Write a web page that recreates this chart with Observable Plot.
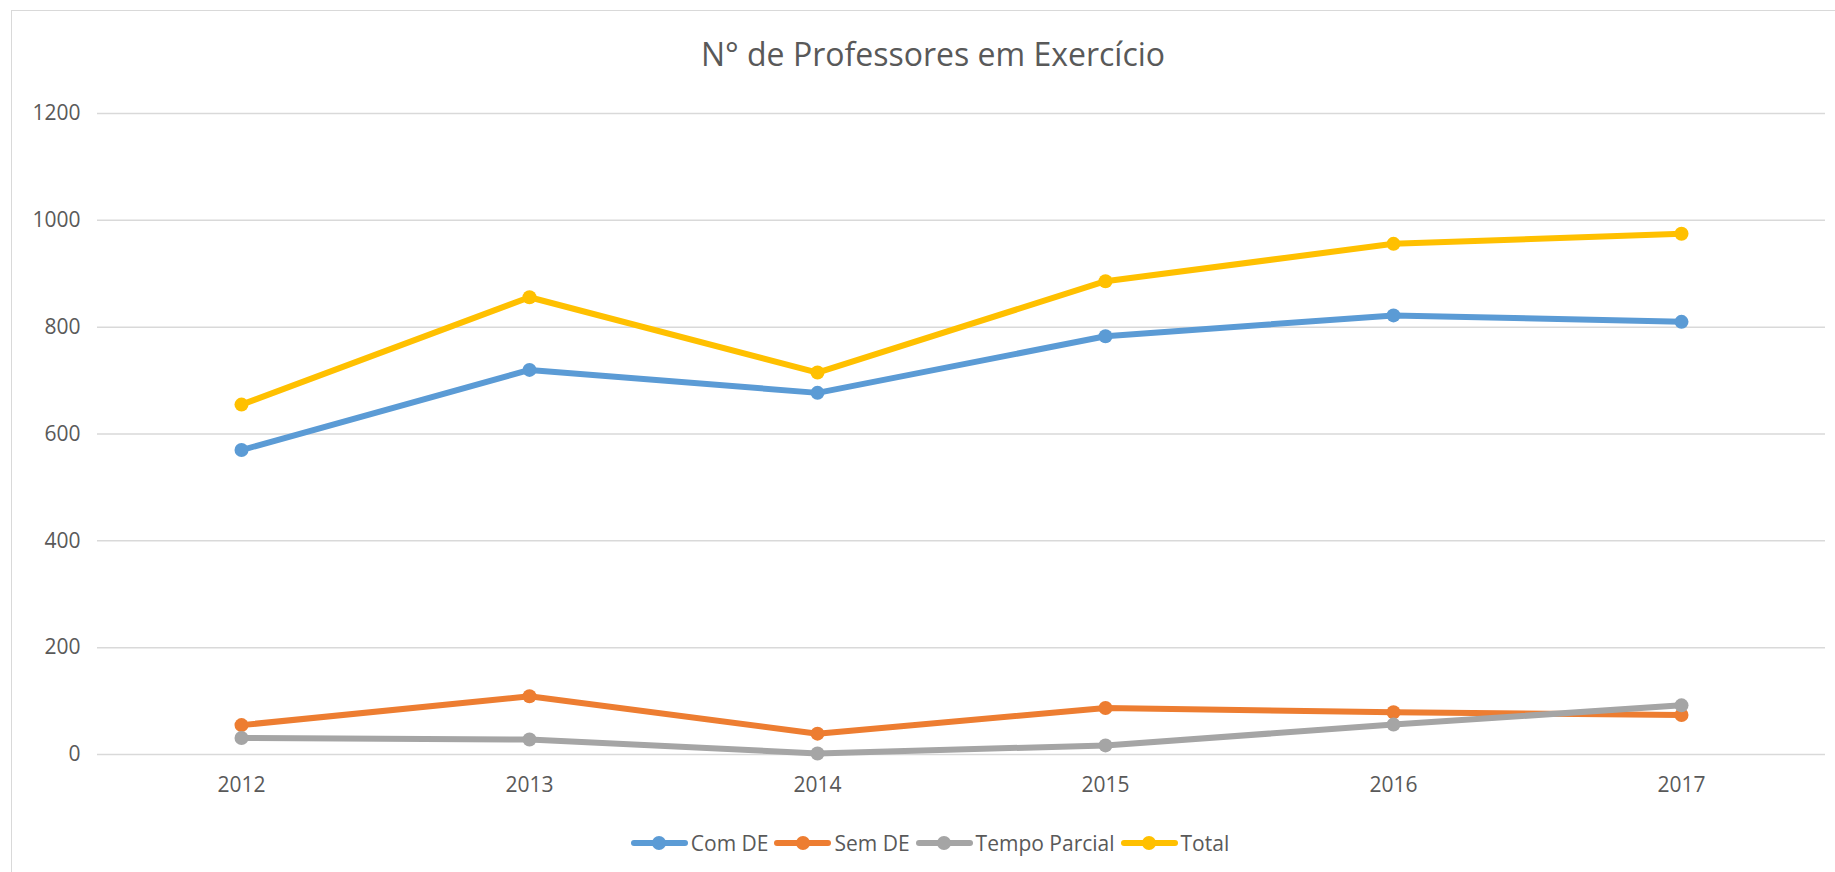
<!DOCTYPE html>
<html>
<head>
<meta charset="utf-8">
<script src="https://cdn.jsdelivr.net/npm/d3@7"></script>
<script src="https://cdn.jsdelivr.net/npm/@observablehq/plot@0.6"></script>
<style>
  html, body { margin: 0; padding: 0; background: #ffffff; width: 1835px; height: 872px; overflow: hidden; font-family: "Open Sans", sans-serif; }
  #frame { position: absolute; left: 11px; top: 10px; width: 1900px; height: 900px; border-left: 1.5px solid #D9D9D9; border-top: 1.5px solid #D9D9D9; box-sizing: border-box; }
  #title { position: absolute; left: 11px; width: 1844px; top: 34px; line-height: 40px; text-align: center; font-size: 32px; color: #595959; white-space: nowrap; }
  #chart { position: absolute; left: 0; top: 0; }
  #legend { position: absolute; left: 11px; width: 1844px; top: 827.5px; height: 30px; display: flex; justify-content: center; align-items: center; font-size: 21px; color: #595959; line-height: 30px; white-space: nowrap; }
  .item { display: flex; align-items: center; }
  .sw { position: relative; width: 57px; height: 30px; margin-right: 3px; }
  .sw .bar { position: absolute; left: 0; right: 0; top: 12px; height: 6px; border-radius: 3px; }
  .sw .dot { position: absolute; left: 21.5px; top: 8px; width: 14px; height: 14px; border-radius: 50%; }
  .lab { margin-right: 6px; }
</style>
</head>
<body>
<div id="frame"></div>
<div id="title">N° de Professores em Exercício</div>
<div id="chart"></div>
<div id="legend"></div>
<script>
const years = ["2012", "2013", "2014", "2015", "2016", "2017"];
const comDE = [570, 720, 677, 783, 822, 810];
const semDE = [55, 109, 39, 87, 79, 74];
const tempoParcial = [31, 28, 2, 17, 56, 92];
const total = [655, 856, 715, 886, 956, 975];
const seriesNames = ["Com DE", "Sem DE", "Tempo Parcial", "Total"];
const seriesColors = ["#5B9BD5", "#ED7D31", "#A5A5A5", "#FFC000"];
const yTicks = [0, 200, 400, 600, 800, 1000, 1200];

const seriesValues = [comDE, semDE, tempoParcial, total];
const data = seriesNames.flatMap((s, i) => years.map((y, j) => ({serie: s, year: y, value: seriesValues[i][j]})));

const seriesMarks = seriesNames.flatMap(s => {
  const d = data.filter(r => r.serie === s);
  return [
    Plot.line(d, {x: "year", y: "value", stroke: "serie", strokeWidth: 6, strokeLinejoin: "round", strokeLinecap: "round"}),
    Plot.dot(d, {x: "year", y: "value", fill: "serie", r: 7, stroke: "none"})
  ];
});

const chart = Plot.plot({
  width: 1835,
  height: 800,
  marginLeft: 97,
  marginRight: 10,
  marginTop: 113,
  marginBottom: 46,
  style: {fontFamily: "Open Sans", fontSize: "21px", color: "#595959", background: "transparent", overflow: "visible"},
  x: {type: "point", domain: years, padding: 0.5, label: null},
  y: {domain: [0, 1200], ticks: yTicks, label: null},
  color: {domain: seriesNames, range: seriesColors},
  marks: [
    Plot.gridY(yTicks, {stroke: "#D9D9D9", strokeOpacity: 1, strokeWidth: 1.5}),
    Plot.axisY(yTicks, {tickSize: 0, tickPadding: 17, label: null, fontSize: 21, fill: "#595959", tickFormat: d => String(d)}),
    Plot.axisX({tickSize: 0, tickPadding: 23, label: null, fontSize: 21, fill: "#595959"}),
    ...seriesMarks
  ]
});
document.getElementById("chart").appendChild(chart);

const legend = document.getElementById("legend");
seriesNames.forEach((s, i) => {
  const item = document.createElement("div");
  item.className = "item";
  const sw = document.createElement("div");
  sw.className = "sw";
  const bar = document.createElement("div");
  bar.className = "bar";
  bar.style.background = seriesColors[i];
  const dot = document.createElement("div");
  dot.className = "dot";
  dot.style.background = seriesColors[i];
  sw.appendChild(bar);
  sw.appendChild(dot);
  const lab = document.createElement("span");
  lab.className = "lab";
  lab.textContent = s;
  item.appendChild(sw);
  item.appendChild(lab);
  legend.appendChild(item);
});
</script>
</body>
</html>
